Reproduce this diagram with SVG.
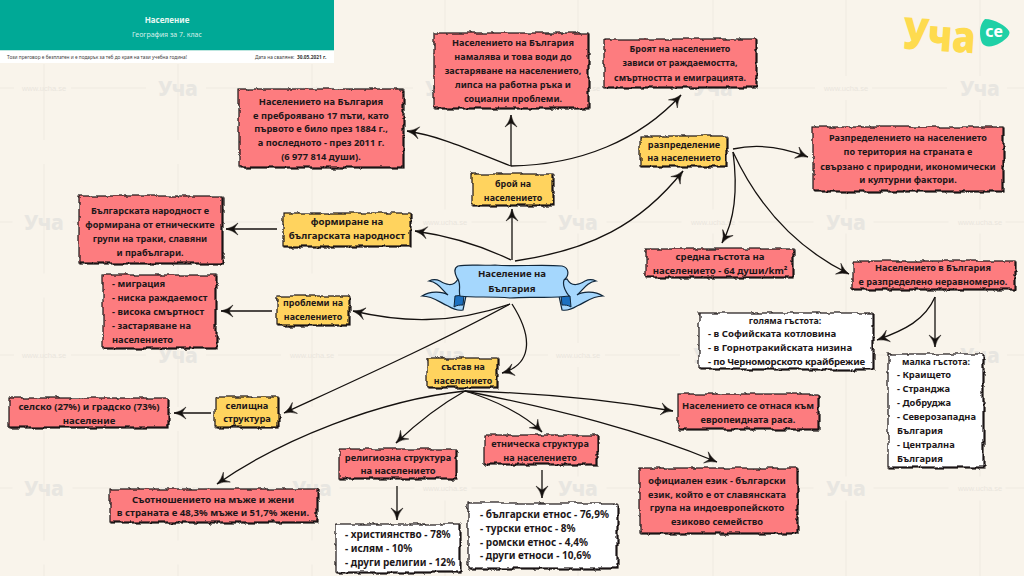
<svg xmlns="http://www.w3.org/2000/svg" xmlns:xlink="http://www.w3.org/1999/xlink" width="1024" height="576" viewBox="0 0 1024 576">
<style>
.b{stroke:#1c1416;stroke-width:1.2;filter:url(#rough)}
.r{fill:#fd7c7f}.y{fill:#ffd35e}.w{fill:#fff}
text{font-family:"Noto Sans","Open Sans","DejaVu Sans",sans-serif}
.s89{font-size:8.900px}.s91{font-size:9.100px}.s93{font-size:9.300px}.s96{font-size:9.600px}.s100{font-size:10px}
.t{font-weight:700;fill:#1d1719;text-anchor:middle;dominant-baseline:central}
.l{font-weight:700;fill:#1d1719;dominant-baseline:central}
.c{fill:none;stroke:#15110f;stroke-width:1.3;marker-end:url(#ah)}
.g{stroke:#efeae1;stroke-width:1;fill:none}
.wa{font-family:"Liberation Sans",sans-serif;font-size:7.5px;fill:#e9e5dd;text-anchor:middle}
.wb{font-size:21px;font-weight:800;fill:#e8e6e1;text-anchor:middle}
.ban{fill:#a5d7fd;stroke:#10263a;stroke-width:1.2}
.fold{fill:#1c70c0;stroke:#10263a;stroke-width:1}
</style>
<defs>
<filter id="rough" x="-6%" y="-14%" width="112%" height="128%" color-interpolation-filters="sRGB">
<feTurbulence type="fractalNoise" baseFrequency="0.09" numOctaves="4" seed="4" result="n"/>
<feDisplacementMap in="SourceGraphic" in2="n" scale="5" xChannelSelector="R" yChannelSelector="G" result="d"/>
<feOffset in="d" dx="0.9" dy="1" result="o"/>
<feColorMatrix in="o" type="matrix" values="0 0 0 0 0.1 0 0 0 0 0.08 0 0 0 0 0.08 0 0 0 1 0" result="s"/>
<feMerge><feMergeNode in="s"/><feMergeNode in="d"/></feMerge>
</filter>
<marker id="ah" markerUnits="userSpaceOnUse" markerWidth="16" markerHeight="14" refX="13" refY="7" orient="auto">
<path d="M13 7 Q6 5.500 1 1 Q4 5 5 7 Q4 9 1 13 Q6 8.500 13 7Z" fill="#15110f" stroke="#15110f" stroke-width=".5"/>
</marker>
<text id="ww" class="wa" dy="2.500">www.ucha.se</text>
<text id="wu" class="wb" dy="8">Уча</text>
<g id="wing">
<path class="ban" d="M458 279C453 288 445 284 440 281C436 279 433 279 429 281C438 282 442 290 448 295C442 291 430 291 422 296C434 296 440 303 448 306C453 309 458 311 463 310L466 296L462 280Z"/>
<path class="fold" d="M455 296L464 295L463 305C460 305 457 305 454 307Z"/>
</g>
</defs>
<rect width="1024" height="576" fill="#f9f4eb"/>
<g id="watermark">
<g class="g">
<line x1="0" y1="88" x2="1024" y2="88" stroke-dasharray="75 60 75 57" stroke-dashoffset="196"/>
<line x1="0" y1="222" x2="1024" y2="222" stroke-dasharray="75 60 75 57" stroke-dashoffset="62.500"/>
<line x1="0" y1="355" x2="1024" y2="355" stroke-dasharray="75 60 75 57" stroke-dashoffset="196"/>
<line x1="0" y1="488" x2="1024" y2="488" stroke-dasharray="75 60 75 57" stroke-dashoffset="62.500"/>
<line x1="44" y1="64" x2="44" y2="576" stroke-dasharray="109.500 24" stroke-dashoffset="33.500"/>
<line x1="178" y1="64" x2="178" y2="576" stroke-dasharray="109.500 24" stroke-dashoffset="33.500"/>
<line x1="312" y1="64" x2="312" y2="576" stroke-dasharray="109.500 24" stroke-dashoffset="33.500"/>
<line x1="445" y1="0" x2="445" y2="576" stroke-dasharray="109.500 24" stroke-dashoffset="33.500"/>
<line x1="578" y1="0" x2="578" y2="576" stroke-dasharray="109.500 24" stroke-dashoffset="33.500"/>
<line x1="713" y1="0" x2="713" y2="576" stroke-dasharray="109.500 24" stroke-dashoffset="33.500"/>
<line x1="846" y1="0" x2="846" y2="576" stroke-dasharray="109.500 24" stroke-dashoffset="33.500"/>
<line x1="980" y1="0" x2="980" y2="576" stroke-dasharray="109.500 24" stroke-dashoffset="33.500"/>
</g>
<use href="#ww" x="44" y="88"/><use href="#wu" x="178" y="88"/><use href="#ww" x="312" y="88"/><use href="#wu" x="445" y="88"/><use href="#ww" x="578" y="88"/><use href="#wu" x="713" y="88"/><use href="#ww" x="846" y="88"/><use href="#wu" x="980" y="88"/>
<use href="#wu" x="44" y="222"/><use href="#ww" x="178" y="222"/><use href="#wu" x="312" y="222"/><use href="#ww" x="445" y="222"/><use href="#wu" x="578" y="222"/><use href="#ww" x="713" y="222"/><use href="#wu" x="846" y="222"/><use href="#ww" x="980" y="222"/>
<use href="#ww" x="44" y="355"/><use href="#wu" x="178" y="355"/><use href="#ww" x="312" y="355"/><use href="#wu" x="445" y="355"/><use href="#ww" x="578" y="355"/><use href="#wu" x="713" y="355"/><use href="#ww" x="846" y="355"/><use href="#wu" x="980" y="355"/>
<use href="#wu" x="44" y="488"/><use href="#ww" x="178" y="488"/><use href="#wu" x="312" y="488"/><use href="#ww" x="445" y="488"/><use href="#wu" x="578" y="488"/><use href="#ww" x="713" y="488"/><use href="#wu" x="846" y="488"/><use href="#ww" x="980" y="488"/>
</g>
<g id="header">
<rect width="334" height="50.500" fill="#00a996"/>
<rect y="50.500" width="334" height="12.500" fill="#fff"/>
<text x="167" y="22.500" font-family="Roboto" font-size="8" font-weight="700" fill="#e8f7f3" text-anchor="middle">Население</text>
<text x="167" y="36.500" font-family="Roboto" font-size="7" fill="#d5f0ea" text-anchor="middle">География за 7. клас</text>
<text x="7" y="59" font-family="Roboto" font-size="4.800" fill="#444" textLength="180">Този преговор е безплатен и е подарък за теб до края на тази учебна година!</text>
<text x="255" y="59" font-family="Roboto" font-size="4.800" fill="#444">Дата на сваляне:</text>
<text x="297" y="59" font-family="Roboto" font-size="4.800" font-weight="700" fill="#333">30.05.2021 г.</text>
</g>
<g id="logo">
<text x="903" y="51" font-family="Lato,Inter,sans-serif" font-size="44" font-weight="900" fill="#fedb4f" textLength="73" lengthAdjust="spacingAndGlyphs" transform="rotate(4 940 35)">Уча</text>
<path d="M985 19C995 19 1006 26 1009 31C1011 34 1007 39 1000 43C993 47 985 48 982 43C979 36 979 24 985 19Z" fill="#1fd0a6"/>
<text x="994" y="37" font-family="Lato,sans-serif" font-size="16" font-weight="700" fill="#fff" text-anchor="middle">се</text>
</g>
<g id="connectors">
<path class="c" d="M511 166C470 150 440 136 407 131"/>
<path class="c" d="M511 166V115"/>
<path class="c" d="M511 166C580 165 640 140 681 95"/>
<path class="c" d="M512 260V209"/>
<path class="c" d="M511 260C480 245 450 236 415 231"/>
<path class="c" d="M515 261C590 250 640 225 683 171"/>
<path class="c" d="M510 304C450 325 400 322 353 311"/>
<path class="c" d="M512 304C535 340 530 365 502 373"/>
<path class="c" d="M510 304C440 342 360 378 284 413"/>
<path class="c" d="M465 391C380 400 280 440 217 484"/>
<path class="c" d="M465 391C440 405 420 420 396 443"/>
<path class="c" d="M465 391C495 400 525 415 542 432"/>
<path class="c" d="M465 391C560 410 640 430 717 462"/>
<path class="c" d="M465 391C540 393 610 400 673 411"/>
<path class="c" d="M397 486V520"/>
<path class="c" d="M542 470V498"/>
<path class="c" d="M211 413H174"/>
<path class="c" d="M277 229H226"/>
<path class="c" d="M272 311H221"/>
<path class="c" d="M733 149C760 143 785 148 808 157"/>
<path class="c" d="M733 152C738 190 735 220 722 243"/>
<path class="c" d="M733 152C760 210 800 250 849 274"/>
<path class="c" d="M935 297C925 320 905 330 877 340"/>
<path class="c" d="M935 297V347"/>
</g>
<g id="center" class="s96">
<use href="#wing"/>
<use href="#wing" transform="translate(1025 0) scale(-1 1)"/>
<path class="ban" d="M458 266C470 264 480 266 495 265C515 267 540 264 562 266C570 268 569 276 564 280C562 286 566 292 569 296C550 299 530 296 510 298C490 296 475 298 460 296C458 290 462 284 457 278C454 272 454 268 458 266Z"/>
<text class="t" x="512" y="273">Население на</text>
<text class="t" x="512" y="288">България</text>
</g>
<g id="n1" class="s93"><rect class="b r" x="239" y="89" width="164" height="78"/>
<text class="t" x="321" y="101">Населението на България</text><text class="t" x="321" y="115">е преброявано 17 пъти, като</text><text class="t" x="321" y="128">първото е било през 1884 г.,</text><text class="t" x="321" y="142">а последното - през 2011 г.</text><text class="t" x="321" y="156">(6 977 814 души).</text></g>
<g id="n2" class="s91"><rect class="b r" x="434" y="33" width="154" height="75"/>
<text class="t" x="513" y="42">Населението на България</text><text class="t" x="513" y="56">намалява и това води до</text><text class="t" x="513" y="70">застаряване на населението,</text><text class="t" x="513" y="84">липса на работна ръка и</text><text class="t" x="513" y="98">социални проблеми.</text></g>
<g id="n3" class="s89"><rect class="b r" x="604" y="39" width="152" height="48"/>
<text class="t" x="680" y="48">Броят на населението</text><text class="t" x="680" y="62">зависи от раждаемостта,</text><text class="t" x="680" y="77">смъртността и емиграцията.</text></g>
<g id="n4" class="s91"><rect class="b y" x="640" y="136" width="86" height="30"/>
<text class="t" x="684" y="144">разпределение</text><text class="t" x="684" y="157">на населението</text></g>
<g id="n5" class="s89"><rect class="b y" x="472" y="174" width="81" height="31"/>
<text class="t" x="513" y="183">брой на</text><text class="t" x="513" y="197">населението</text></g>
<g id="n6" class="s91"><rect class="b r" x="813" y="127" width="190" height="64"/>
<text class="t" x="908" y="137">Разпределението на населението</text><text class="t" x="908" y="151">по територия на страната е</text><text class="t" x="908" y="166">свързано с природни, икономически</text><text class="t" x="908" y="179">и културни фактори.</text></g>
<g id="n7" class="s91"><rect class="b r" x="79" y="196" width="143" height="67"/>
<text class="t" x="150" y="210">Българската народност е</text><text class="t" x="150" y="224">формирана от етническите</text><text class="t" x="150" y="238">групи на траки, славяни</text><text class="t" x="150" y="252">и прабългари.</text></g>
<g id="n8" class="s96"><rect class="b y" x="283" y="213" width="127" height="33"/>
<text class="t" x="347" y="221">формиране на</text><text class="t" x="347" y="235">българската народност</text></g>
<g id="n9" class="s93"><rect class="b r" x="103" y="275" width="113" height="73"/>
<text class="l" x="112" y="283">- миграция</text><text class="l" x="112" y="297">- ниска раждаемост</text><text class="l" x="112" y="311">- висока смъртност</text><text class="l" x="112" y="325">- застаряване на</text><text class="l" x="112" y="339">населението</text></g>
<g id="n10" class="s89"><rect class="b y" x="277" y="296" width="72" height="29"/>
<text class="t" x="313" y="302">проблеми на</text><text class="t" x="313" y="316">населението</text></g>
<g id="n12" class="s89"><rect class="b y" x="427" y="358" width="70" height="29"/>
<text class="t" x="463" y="366">състав на</text><text class="t" x="463" y="380">населението</text></g>
<g id="n13" class="s96"><rect class="b r" x="646" y="249" width="147" height="28"/>
<text class="t" x="720" y="256">средна гъстота на</text><text class="t" x="720" y="270">населението - 64 души/km²</text></g>
<g id="n14" class="s91"><rect class="b r" x="853" y="261" width="162" height="28"/>
<text class="t" x="933" y="267">Населението в България</text><text class="t" x="933" y="281">е разпределено неравномерно.</text></g>
<g id="n15" class="s96"><rect class="b w" x="699" y="313" width="174" height="56"/>
<text class="t s89" x="785" y="320">голяма гъстота:</text><text class="l" x="708" y="333">- в Софийската котловина</text><text class="l" x="708" y="347">- в  Горнотракийската низина</text><text class="l" x="708" y="361" textLength="157">- по Черноморското крайбрежие</text></g>
<g id="n16" class="s93"><rect class="b w" x="888" y="354" width="95" height="113"/>
<text class="t s89" x="936" y="361">малка гъстота:</text><text class="l" x="897" y="374">- Краището</text><text class="l" x="897" y="388">- Странджа</text><text class="l" x="897" y="402">- Добруджа</text><text class="l" x="897" y="416">- Северозападна</text><text class="l" x="897" y="430">България</text><text class="l" x="897" y="444">- Централна</text><text class="l" x="897" y="458">България</text></g>
<g id="n17" class="s93"><rect class="b r" x="678" y="394" width="140" height="35"/>
<text class="t" x="748" y="405">Населението се отнася към</text><text class="t" x="748" y="419">европеидната раса.</text></g>
<g id="n18" class="s93"><rect class="b r" x="640" y="468" width="157" height="65"/>
<text class="t" x="717" y="480">официален език - български</text><text class="t" x="717" y="494">език, който е от славянската</text><text class="t" x="717" y="507">група на индоевропейското</text><text class="t" x="717" y="521">езиково семейство</text></g>
<g id="n19" class="s91"><rect class="b r" x="484" y="435" width="113" height="29"/>
<text class="t" x="540" y="443">етническа структура</text><text class="t" x="540" y="457">на населението</text></g>
<g id="n20" class="s93"><rect class="b r" x="339" y="449" width="117" height="29"/>
<text class="t" x="398" y="457">религиозна структура</text><text class="t" x="398" y="470">на населението</text></g>
<g id="n21" class="s100"><rect class="b w" x="336" y="524" width="124" height="48"/>
<text class="l" x="345" y="534">- християнство - 78%</text><text class="l" x="345" y="548">- ислям - 10%</text><text class="l" x="345" y="562">- други религии - 12%</text></g>
<g id="n22" class="s100"><rect class="b w" x="468" y="503" width="149" height="65"/>
<text class="l" x="480" y="514">- български етнос - 76,9%</text><text class="l" x="480" y="528">- турски етнос - 8%</text><text class="l" x="480" y="542">- ромски етнос - 4,4%</text><text class="l" x="480" y="555">- други етноси - 10,6%</text></g>
<g id="n23" class="s96"><rect class="b r" x="9" y="398" width="159" height="29"/>
<text class="t" x="89" y="406">селско (27%) и градско (73%)</text><text class="t" x="89" y="420">население</text></g>
<g id="n24" class="s93"><rect class="b y" x="215" y="397" width="63" height="30"/>
<text class="t" x="247" y="405">селищна</text><text class="t" x="247" y="418">структура</text></g>
<g id="n25" class="s96"><rect class="b r" x="110" y="489" width="207" height="33"/>
<text class="t" x="213" y="499">Съотношението на мъже и жени</text><text class="t" x="213" y="512">в страната е 48,3% мъже и 51,7% жени.</text></g>
</svg>
